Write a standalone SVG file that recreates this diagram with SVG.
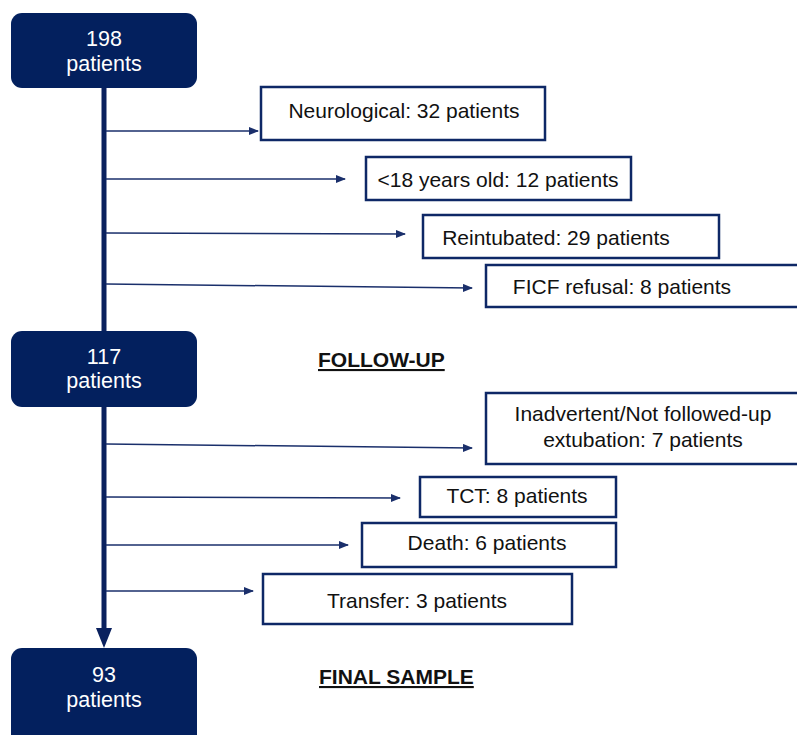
<svg xmlns="http://www.w3.org/2000/svg" width="797" height="735" viewBox="0 0 797 735">
<defs>
<marker id="ah" markerWidth="10" markerHeight="8" refX="9" refY="4" orient="auto" markerUnits="userSpaceOnUse">
<path d="M0,0 L10,4 L0,8 Z" fill="#1a2f6b"/>
</marker>
</defs>
<style>
.node rect{fill:#03205e;}
.node text{fill:#ffffff;font-family:"Liberation Sans",Arial,sans-serif;font-size:21.5px;text-anchor:middle;}
.box rect{fill:#ffffff;stroke:#0e2866;stroke-width:2.5;}
.box text{fill:#111111;font-family:"Liberation Sans",Arial,sans-serif;font-size:21px;text-anchor:middle;}
.lbl{fill:#111111;font-family:"Liberation Sans",Arial,sans-serif;font-size:21px;font-weight:bold;text-decoration:underline;}
.conn line{stroke:#1a2f6b;stroke-width:1.5;}
</style>
<g id="connectors" class="conn">
<line x1="104" y1="88" x2="104" y2="331" style="stroke:#0a215e;stroke-width:5"/>
<line x1="104" y1="407" x2="104" y2="628" style="stroke:#0a215e;stroke-width:5"/>
<path d="M96,628 L112,628 L104,648 Z" fill="#0a215e"/>
<line x1="106" y1="131" x2="258" y2="131" marker-end="url(#ah)"/>
<line x1="106" y1="179" x2="345" y2="179" marker-end="url(#ah)"/>
<line x1="106" y1="233" x2="405" y2="234" marker-end="url(#ah)"/>
<line x1="106" y1="284" x2="472" y2="288" marker-end="url(#ah)"/>
<line x1="106" y1="444" x2="472" y2="448" marker-end="url(#ah)"/>
<line x1="106" y1="497" x2="400" y2="498" marker-end="url(#ah)"/>
<line x1="106" y1="545" x2="348" y2="545" marker-end="url(#ah)"/>
<line x1="106" y1="591" x2="253" y2="591" marker-end="url(#ah)"/>
</g>
<g id="n198" class="node">
<rect x="11" y="13" width="186" height="75" rx="11"/>
<text x="104" y="46">198</text>
<text x="104" y="71">patients</text>
</g>
<g id="n117" class="node">
<rect x="11" y="331" width="186" height="76" rx="11"/>
<text x="104" y="364">117</text>
<text x="104" y="388">patients</text>
</g>
<g id="n93" class="node">
<rect x="11" y="648" width="186" height="100" rx="11"/>
<text x="104" y="682">93</text>
<text x="104" y="707">patients</text>
</g>
<g id="neuro" class="box">
<rect x="261" y="87" width="284" height="53"/>
<text x="404" y="118">Neurological: 32 patients</text>
</g>
<g id="young" class="box">
<rect x="366" y="157" width="265" height="43"/>
<text x="498" y="187">&lt;18 years old: 12 patients</text>
</g>
<g id="reint" class="box">
<rect x="423" y="215" width="296" height="43"/>
<text x="556" y="245">Reintubated: 29 patients</text>
</g>
<g id="ficf" class="box">
<rect x="486" y="265" width="315" height="42"/>
<text x="622" y="294">FICF refusal: 8 patients</text>
</g>
<g id="inadv" class="box">
<rect x="486" y="393" width="315" height="71"/>
<text x="643" y="421">Inadvertent/Not followed-up</text>
<text x="643" y="447">extubation: 7 patients</text>
</g>
<g id="tct" class="box">
<rect x="420" y="477" width="196" height="40"/>
<text x="517" y="503">TCT: 8 patients</text>
</g>
<g id="death" class="box">
<rect x="362" y="523" width="254" height="44"/>
<text x="487" y="550">Death: 6 patients</text>
</g>
<g id="transfer" class="box">
<rect x="263" y="574" width="309" height="50"/>
<text x="417" y="608">Transfer: 3 patients</text>
</g>
<text class="lbl" x="318" y="367">FOLLOW-UP</text>
<text class="lbl" x="319" y="684">FINAL SAMPLE</text>
</svg>
